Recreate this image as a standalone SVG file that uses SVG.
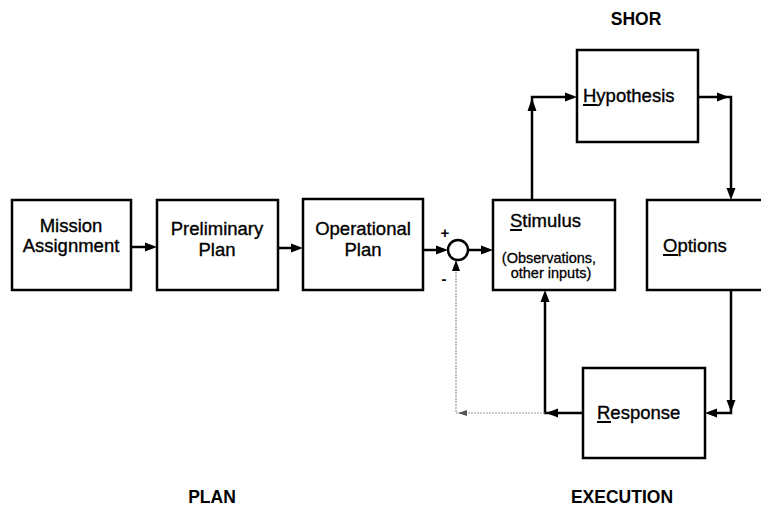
<svg xmlns="http://www.w3.org/2000/svg" width="761" height="508" viewBox="0 0 761 508">
<style>
.box{fill:#fff;stroke:#000;stroke-width:2.5}
.t{font-family:"Liberation Sans",Arial,sans-serif;font-size:18.5px;fill:#000;stroke:#000;stroke-width:0.35}
.s{font-family:"Liberation Sans",Arial,sans-serif;font-size:14.5px;fill:#000;stroke:#000;stroke-width:0.3}
.b{font-family:"Liberation Sans",Arial,sans-serif;font-size:17.5px;font-weight:bold;fill:#000}
.ln{fill:none;stroke:#000;stroke-width:2.5}
.dl{fill:none;stroke:#999;stroke-width:1.2;stroke-dasharray:2 1}
.ah{fill:#000}
.ul{stroke:#000;stroke-width:2}
</style>
<rect width="761" height="508" fill="#fff"/>
<g id="connectors">
<path class="ln" d="M132,247H146"/><polygon class="ah" points="157,247 145,242.5 145,251.5"/>
<path class="ln" d="M278,248H292"/><polygon class="ah" points="303,248 291,243.5 291,252.5"/>
<path class="ln" d="M423,250H437"/><polygon class="ah" points="448,250 436,245.5 436,254.5"/>
<path class="ln" d="M468,250H482"/><polygon class="ah" points="493,250 481,245.5 481,254.5"/>
<path class="ln" d="M532,200V97H566"/><polygon class="ah" points="532,98 527.5,111 536.5,111"/><polygon class="ah" points="577,97 565,92.5 565,101.5"/>
<path class="ln" d="M698,97H731V189"/><polygon class="ah" points="729,97 717,92.5 717,101.5"/><polygon class="ah" points="731,200 726.5,188 735.5,188"/>
<path class="ln" d="M731,290V413H716"/><polygon class="ah" points="731,412 726.5,400 735.5,400"/><polygon class="ah" points="705,413 717,408.5 717,417.5"/>
<path class="ln" d="M583,413H545V301"/><polygon class="ah" points="546,413 558,408.5 558,417.5"/><polygon class="ah" points="545,290 540.5,302 549.5,302"/>
<path class="dl" d="M545,413H456V262"/>
<polygon fill="#555" points="458,413 467,410 467,416"/>
<polygon class="ah" points="456,260 452,271 460,271"/>
</g>
<g id="mission"><rect class="box" x="12" y="200" width="119" height="90"/>
<text class="t" x="71" y="232" text-anchor="middle">Mission</text>
<text class="t" x="71" y="252" text-anchor="middle">Assignment</text></g>
<g id="preliminary"><rect class="box" x="157" y="200" width="121" height="90"/>
<text class="t" x="217" y="235" text-anchor="middle">Preliminary</text>
<text class="t" x="217" y="256" text-anchor="middle">Plan</text></g>
<g id="operational"><rect class="box" x="303" y="199" width="120" height="91"/>
<text class="t" x="363" y="235" text-anchor="middle">Operational</text>
<text class="t" x="363" y="256" text-anchor="middle">Plan</text></g>
<g id="sum"><circle cx="458" cy="250" r="10" fill="#fff" stroke="#000" stroke-width="2.5"/>
<text class="b" x="445" y="238" text-anchor="middle" style="font-size:15px">+</text>
<text class="b" x="444" y="284" text-anchor="middle" style="font-size:15px">-</text></g>
<g id="stimulus"><rect class="box" x="493" y="200" width="122" height="90"/>
<text class="t" x="510" y="227">Stimulus</text>
<line class="ul" x1="510" y1="230" x2="522" y2="230"/>
<text class="s" x="549" y="263" text-anchor="middle">(Observations,</text>
<text class="s" x="551" y="278" text-anchor="middle">other inputs)</text></g>
<g id="hypothesis"><rect class="box" x="577" y="50" width="121" height="92"/>
<text class="t" x="583" y="102">Hypothesis</text>
<line class="ul" x1="583" y1="105" x2="597" y2="105"/></g>
<g id="options"><rect class="box" x="647" y="200" width="130" height="90"/>
<text class="t" x="663" y="252">Options</text>
<line class="ul" x1="663" y1="255" x2="678" y2="255"/></g>
<g id="response"><rect class="box" x="583" y="368" width="122" height="90"/>
<text class="t" x="597" y="419">Response</text>
<line class="ul" x1="597" y1="422" x2="611" y2="422"/></g>
<g id="labels">
<text class="b" x="636" y="25" text-anchor="middle">SHOR</text>
<text class="b" x="212" y="503" text-anchor="middle">PLAN</text>
<text class="b" x="622" y="503" text-anchor="middle">EXECUTION</text>
</g>
</svg>
